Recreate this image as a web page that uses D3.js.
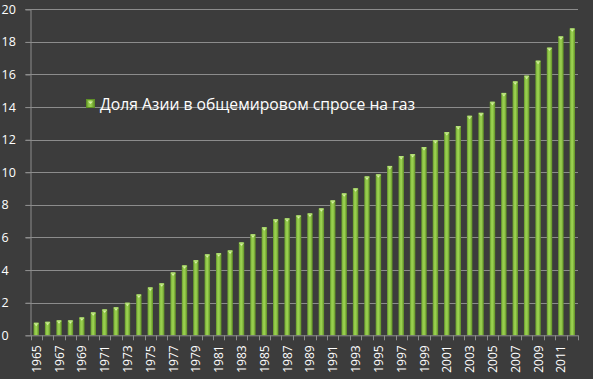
<!DOCTYPE html>
<html><head><meta charset="utf-8">
<script src="https://cdn.jsdelivr.net/npm/d3@7"></script>
<style>
html,body{margin:0;padding:0;background:#3c3c3c;}
svg{display:block;}
</style></head>
<body>
<svg id="c" width="593" height="379"></svg>
<script>
const years = d3.range(1965, 2013).map(String);
const values = [0.77,0.83,0.92,0.92,1.10,1.41,1.59,1.72,2.00,2.51,2.94,3.19,3.86,4.29,4.61,4.97,5.04,5.21,5.70,6.20,6.63,7.12,7.18,7.36,7.48,7.79,8.28,8.71,9.02,9.75,9.88,10.39,11.00,11.12,11.55,11.98,12.47,12.84,13.47,13.65,14.33,14.87,15.58,15.93,16.85,17.65,18.34,18.83];
const yTicks = [0,2,4,6,8,10,12,14,16,18,20];
const seriesName = "Доля Азии в общемировом спросе на газ";

const W = 593, H = 379;
const m = {l:30.5, r:15, t:9.3, b:43.7};
const svg = d3.select("#c");
svg.append("rect").attr("width",W).attr("height",H).attr("fill","#3c3c3c");

const x = d3.scaleBand().domain(years).range([m.l, W-m.r]).paddingInner(0.52).paddingOuter(0.26);
const y = d3.scaleLinear().domain([0,20]).range([H-m.b, m.t]);

const defs = svg.append("defs");
const g1 = defs.append("linearGradient").attr("id","barg").attr("x1","0").attr("x2","1").attr("y1","0").attr("y2","0");
g1.append("stop").attr("offset","0%").attr("stop-color","#62942a");
g1.append("stop").attr("offset","30%").attr("stop-color","#93ca4a");
g1.append("stop").attr("offset","55%").attr("stop-color","#9ad050");
g1.append("stop").attr("offset","100%").attr("stop-color","#5e8e24");

// gridlines
const grid = svg.append("g");
grid.selectAll("line").data(yTicks.filter(d=>d>0)).join("line")
  .attr("x1", m.l-5).attr("x2", W-m.r)
  .attr("y1", d=>Math.round(y(d))+0.5).attr("y2", d=>Math.round(y(d))+0.5)
  .attr("stroke","#8c8c8c").attr("stroke-width",1);

// y axis
const yAxis = d3.axisLeft(y).tickValues(yTicks).tickSize(5).tickPadding(14);
const ya = svg.append("g").attr("transform",`translate(${m.l},0)`).call(yAxis);
ya.select(".domain").attr("stroke","#8c8c8c");
ya.selectAll(".tick line").attr("stroke","#8c8c8c");
ya.selectAll(".tick text").attr("fill","#ffffff").attr("font-family","'Open Sans', sans-serif").attr("font-size","12.5px").attr("text-anchor","start").attr("x",-29);

// bars
const bars = svg.append("g");
bars.selectAll("rect.bar").data(values).join("rect").attr("class","bar")
  .attr("x",(d,i)=>x(years[i])).attr("width",x.bandwidth())
  .attr("y",d=>y(d)).attr("height",d=>y(0)-y(d))
  .attr("fill","url(#barg)");
bars.selectAll("rect.cap").data(values).join("rect").attr("class","cap")
  .attr("x",(d,i)=>x(years[i])+0.5).attr("width",x.bandwidth()-1)
  .attr("y",d=>y(d)).attr("height",1.5)
  .attr("fill","#b5e07a");
bars.selectAll("path.tri").data(values).join("path").attr("class","tri")
  .attr("d",(d,i)=>{const cx=x(years[i])+x.bandwidth()/2, ty=y(d)+1.5; return `M${cx-1.5},${ty}L${cx+1.5},${ty}L${cx},${ty+2}Z`;})
  .attr("fill","#d8f0a8");

// x axis
const xa = svg.append("g").attr("transform",`translate(0,${y(0)})`);
xa.append("line").attr("x1",m.l).attr("x2",W-m.r).attr("y1",0.5).attr("y2",0.5).attr("stroke","#8c8c8c");
const x0 = m.l;
xa.selectAll("line.tk").data(d3.range(years.length+1)).join("line").attr("class","tk")
  .attr("x1",i=>Math.round(x0 + i*(W-m.r-m.l)/years.length)+0.5)
  .attr("x2",i=>Math.round(x0 + i*(W-m.r-m.l)/years.length)+0.5)
  .attr("y1",0).attr("y2",5).attr("stroke","#8c8c8c");
xa.selectAll("text").data(years.filter((d,i)=>i%2===0)).join("text")
  .attr("transform",d=>`translate(${x(d)+x.bandwidth()/2+4.5},10) rotate(-90)`)
  .attr("text-anchor","end")
  .attr("fill","#ffffff").attr("font-family","'Open Sans', sans-serif").attr("font-size","12px")
  .text(d=>d);

// legend
const lg = svg.append("g");
lg.append("rect").attr("x",86.5).attr("y",99.5).attr("width",8).attr("height",8).attr("fill","url(#barg)").attr("stroke","#5f9126");
lg.append("path").attr("d","M88,101.5L93,101.5L90.5,104Z").attr("fill","#d8f0a8");
lg.append("text").attr("x",100).attr("y",109.5).attr("fill","#ffffff")
  .attr("font-family","'Open Sans', sans-serif").attr("font-size","15.7px").text(seriesName);
</script>
</body></html>
